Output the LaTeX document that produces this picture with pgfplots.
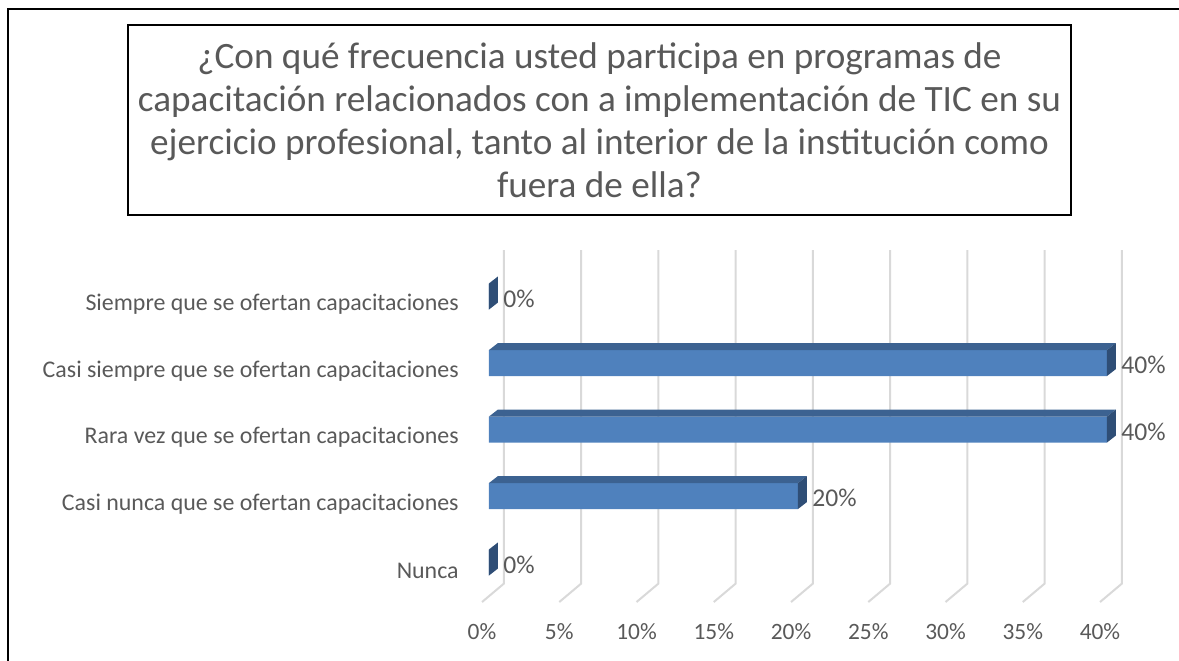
\documentclass[border=0pt]{standalone}
\usepackage{fontspec}
\setmainfont{Carlito}
\usepackage{pgfplots}
\usepackage{pgfplotstable}
\pgfplotsset{compat=1.18}
\definecolor{txt}{RGB}{89,89,89}
\definecolor{barfront}{RGB}{79,129,189}
\definecolor{bartop}{RGB}{60,98,145}
\definecolor{barside}{RGB}{47,78,118}
\definecolor{gridc}{RGB}{217,217,217}

\pgfplotstableread{
y v
0 0
1 40
2 40
3 20
4 0
}\data

\pgfdeclareplotmark{bar3d}{%
  \pgfmathsetmacro\L{\val*7.725}%
  \pgfsetfillcolor{bartop}%
  \pgfpathmoveto{\pgfpoint{-\L pt}{6.5pt}}%
  \pgfpathlineto{\pgfpoint{0pt}{6.5pt}}%
  \pgfpathlineto{\pgfpoint{4.5pt}{10pt}}%
  \pgfpathlineto{\pgfpoint{-\L pt+4.5pt}{10pt}}%
  \pgfpathclose
  \pgfusepath{fill}%
  \pgfsetfillcolor{barside}%
  \pgfpathmoveto{\pgfpoint{0pt}{-6.5pt}}%
  \pgfpathlineto{\pgfpoint{0pt}{6.5pt}}%
  \pgfpathlineto{\pgfpoint{4.5pt}{10pt}}%
  \pgfpathlineto{\pgfpoint{4.5pt}{-3pt}}%
  \pgfpathclose
  \pgfusepath{fill}%
}

\begin{document}
\begin{tikzpicture}
\useasboundingbox (0,0) rectangle (589.5pt,-330pt);
\draw[line width=1pt, black] (4pt,-335pt) -- (4pt,-4.5pt) -- (595pt,-4.5pt);
\draw[line width=1pt, black] (64pt,-12.5pt) rectangle (535.5pt,-107.5pt);
\node[align=center, text=txt, font=\fontsize{18.6}{21.5}\selectfont] at (299.75pt,-60pt)
 {¿Con qué frecuencia usted participa en programas de\\
  capacitación relacionados con a implementación de TIC en su\\
  ejercicio profesional, tanto al interior de la institución como\\
  fuera de ella?};
\begin{axis}[
  at={(221.325pt,-314.5pt)}, anchor=south west,
  scale only axis, width=370.8pt, height=199.5pt,
  xmin=-3, xmax=45, ymin=-1, ymax=5,
  y dir=reverse,
  clip=false,
  axis line style={draw=none},
  major tick length=0pt,
  xtick={0,5,...,40},
  xticklabels={0\%,5\%,10\%,15\%,20\%,25\%,30\%,35\%,40\%},
  xticklabel style={anchor=center, xshift=-3.5pt, yshift=-1.5pt, inner sep=0pt},
  ytick={0,1,2,3,4},
  yticklabels={Siempre que se ofertan capacitaciones,
               Casi siempre que se ofertan capacitaciones,
               Rara vez que se ofertan capacitaciones,
               Casi nunca que se ofertan capacitaciones,
               Nunca},
  yticklabel style={anchor=east, inner sep=0pt, xshift=8.2pt, yshift=-4pt,
     font=\fontsize{11.95}{14}\selectfont},
  tick label style={text=txt, font=\fontsize{11.7}{14}\selectfont},
  /pgf/number format/assume math mode=true,
]
\foreach \g in {0,5,...,40} {
  \edef\tmp{\noexpand\draw[gridc, line width=1pt]
    (axis cs:\g+0.97,-0.699) -- (axis cs:\g+0.97,4.316) -- (axis cs:\g-0.45,4.594);}
  \tmp
}
\addplot[xbar, bar width=13pt, fill=barfront, draw=none,
  point meta=x,
  nodes near coords={\pgfmathprintnumber{\pgfplotspointmeta}\%},
  nodes near coords style={anchor=west, inner sep=0pt, xshift=7pt, yshift=-1pt,
     text=txt, font=\fontsize{12.8}{15}\selectfont}]
  table[x=v, y=y] {\data};
\addplot[only marks, mark=bar3d,
  visualization depends on={x \as \val}]
  table[x=v, y=y] {\data};
\end{axis}
\end{tikzpicture}
\end{document}
